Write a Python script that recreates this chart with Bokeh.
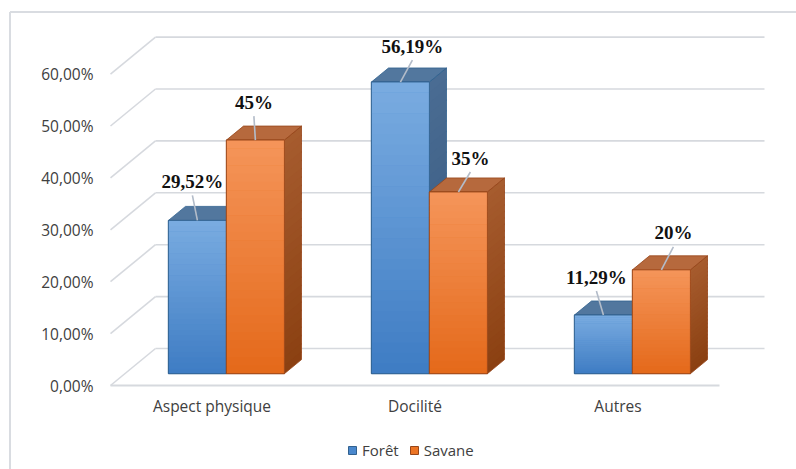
import numpy as np
from bokeh.plotting import figure
from bokeh.models import (Range1d, FixedTicker, CustomJSTickFormatter, Legend,
                          LegendItem, ColumnDataSource, LinearAxis)
from bokeh.core.properties import value
from bokeh.embed import file_html
from bokeh.resources import INLINE

# ---------------- data ----------------
categories = ["Aspect physique", "Docilité", "Autres"]
series_names = ["Forêt", "Savane"]
foret = [29.52, 56.19, 11.29]
savane = [45.0, 35.0, 20.0]
labels_foret = ["29,52%", "56,19%", "11,29%"]
labels_savane = ["45%", "35%", "20%"]
y_ticks = [0, 10, 20, 30, 40, 50, 60]

# ---------------- styles / layout ----------------
label_offsets_foret = [(-5, -39), (12, -36), (-7, -38)]    # px from bar top
label_offsets_savane = [(-1.5, -38), (12, -34), (12, -37)]

W, H = 796, 469
ORIGIN_X, ORIGIN_Y = 110, 385   # px of front-left floor corner
SX = 203.0      # px per category
SY = 5.19       # px per percent
X0 = -ORIGIN_X / SX
X1 = X0 + W / SX
Y0 = -(H - ORIGIN_Y) / SY
Y1 = Y0 + H / SY

DX = 45.0 / SX      # full floor depth
DY = 37.0 / SY
DF = 0.32           # bar front depth fraction
DD = 0.38           # bar depth fraction
BW = 58.0 / SX      # bar width

GRID = "#D6D9DE"
TXT = "#404040"
FONT = "Open Sans"
FSIZE = "15.5px"
styles = {
    0: dict(front_top="#7AACE1", front_bot="#3E7CC3", top="#52779E",
            side_top="#4A6C93", side_bot="#36587D", edge="#31618F", mid="#4A88CD"),
    1: dict(front_top="#F5955A", front_bot="#E4691A", top="#B6693D",
            side_top="#A65C2F", side_bot="#8B4011", edge="#97461A", mid="#EC7424"),
}


def hex2rgb(h):
    h = h.lstrip("#")
    return np.array([int(h[i:i + 2], 16) for i in (0, 2, 4)], dtype=float)


def mix(c1, c2, t):
    a, b = hex2rgb(c1), hex2rgb(c2)
    c = a + (b - a) * t
    return "#%02x%02x%02x" % tuple(int(round(v)) for v in c)


p = figure(width=W, height=H, output_backend="svg", toolbar_location=None,
           x_range=Range1d(X0, X1), y_range=Range1d(Y0, Y1),
           x_axis_location=None, y_axis_location=None,
           min_border=0, min_border_left=0, min_border_right=0,
           min_border_top=0, min_border_bottom=0)
p.outline_line_color = None
p.grid.visible = False
p.background_fill_color = "white"
p.border_fill_color = "white"

# ---------------- axes (fixed inside the frame) ----------------
yaxis = LinearAxis(fixed_location=0, ticker=FixedTicker(ticks=y_ticks),
                   formatter=CustomJSTickFormatter(
                       code="return tick.toFixed(2).replace('.', ',') + '%';"),
                   axis_line_color=None, major_tick_line_color=None,
                   minor_tick_line_color=None, major_tick_out=0, major_tick_in=0,
                   major_label_standoff=17, major_label_text_font=FONT,
                   major_label_text_font_size=FSIZE, major_label_text_color=TXT)
p.add_layout(yaxis, "left")

cat_pos = [i + 0.5 for i in range(len(categories))]
xaxis = LinearAxis(fixed_location=0, ticker=FixedTicker(ticks=cat_pos),
                   major_label_overrides={c: lab for c, lab in zip(cat_pos, categories)},
                   axis_line_color=None, major_tick_line_color=None,
                   minor_tick_line_color=None, major_tick_out=0, major_tick_in=0,
                   major_label_standoff=9, major_label_text_font=FONT,
                   major_label_text_font_size=FSIZE, major_label_text_color=TXT)
p.add_layout(xaxis, "below")

# ---------------- outer border ----------------
bx = X0 + 9.5 / SX
by = Y1 - 11.5 / SY
p.segment(x0=[bx, bx], y0=[by, by], x1=[bx, X1 + 1], y1=[Y0 - 1, by],
          line_color="#D9DCE1", line_width=2)

# ---------------- walls ----------------
n = len(categories)
p.segment(x0=[DX] * len(y_ticks), y0=[v + DY for v in y_ticks],
          x1=[n + DX] * len(y_ticks), y1=[v + DY for v in y_ticks],
          line_color=GRID, line_width=1.6)
p.segment(x0=[0] * len(y_ticks), y0=y_ticks,
          x1=[DX] * len(y_ticks), y1=[v + DY for v in y_ticks],
          line_color=GRID, line_width=1.6)
p.segment(x0=[0], y0=[0], x1=[n], y1=[0], line_color=GRID, line_width=1.8)

# ---------------- bars ----------------
NSTRIP = 28
OVL = 0.3
bdx, bdy = DD * DX, DD * DY
base_renderers = {}
label_rows = dict(x=[], y=[], text=[])
lead = dict(x0=[], y0=[], x1=[], y1=[])

for s, (vals, labs, offs) in enumerate([(foret, labels_foret, label_offsets_foret),
                                         (savane, labels_savane, label_offsets_savane)]):
    st = styles[s]
    side_xs, side_ys, side_col = [], [], []
    top_xs, top_ys = [], []
    fl, fr, ft, fb = [], [], [], []
    sl, sr, stp, sbt, scol = [], [], [], [], []
    edge_xs, edge_ys = [], []
    for i, v in enumerate(vals):
        c = i + 0.5 + DF * DX
        xl = c - BW if s == 0 else c
        xr = xl + BW
        yb = DF * DY
        yt = v + yb
        for k in range(NSTRIP):
            a = yt - (yt - yb) * k / NSTRIP
            b = max(yt - (yt - yb) * (k + 1) / NSTRIP - OVL, yb)
            side_xs.append([xr, xr, xr + bdx, xr + bdx])
            side_ys.append([b, a, a + bdy, b + bdy])
            side_col.append(mix(st["side_top"], st["side_bot"], (k + 0.5) / NSTRIP))
        top_xs.append([xl, xr, xr + bdx, xl + bdx])
        top_ys.append([yt, yt, yt + bdy, yt + bdy])
        edge_xs += [[xr, xr, xr + bdx, xr + bdx], [xl, xr, xr + bdx, xl + bdx]]
        edge_ys += [[yb, yt, yt + bdy, yb + bdy], [yt, yt, yt + bdy, yt + bdy]]
        fl.append(xl); fr.append(xr); ft.append(yt); fb.append(yb)
        for k in range(NSTRIP):
            a = yt - (yt - yb) * k / NSTRIP
            b = max(yt - (yt - yb) * (k + 1) / NSTRIP - 0.08, yb)
            sl.append(xl); sr.append(xr); stp.append(a); sbt.append(b)
            scol.append(mix(st["front_top"], st["front_bot"], (k + 0.5) / NSTRIP))
        cx = (xl + xr) / 2
        ox, oy = offs[i]
        lx = cx + ox / SX
        ly = yt - oy / SY
        label_rows["x"].append(lx)
        label_rows["y"].append(ly)
        label_rows["text"].append(labs[i])
        lead["x0"].append(lx)
        lead["y0"].append(ly - 14 / SY)
        lead["x1"].append(cx)
        lead["y1"].append(yt)

    p.patches(xs=side_xs, ys=side_ys, fill_color=side_col, line_color=None)
    p.patches(xs=top_xs, ys=top_ys, fill_color=st["top"], line_color=None)
    p.patches(xs=edge_xs, ys=edge_ys, fill_color=None, line_color=st["edge"],
              line_width=1, line_alpha=0.8)
    base = p.quad(left=fl, right=fr, top=ft, bottom=fb, fill_color=st["mid"],
                  line_color=st["edge"], line_width=1)
    p.quad(left=sl, right=sr, top=stp, bottom=sbt, fill_color=scol, line_color=None)
    p.quad(left=fl, right=fr, top=ft, bottom=fb, fill_color=None,
           line_color=st["edge"], line_width=1, line_alpha=0.8)
    base_renderers[s] = base

p.segment(x0="x0", y0="y0", x1="x1", y1="y1", source=ColumnDataSource(lead),
          line_color="#B3BCC9", line_width=1.6)
p.text(x="x", y="y", text="text", source=ColumnDataSource(label_rows),
       text_font=value("Liberation Serif"), text_font_style="bold",
       text_font_size="19px", text_color="#111111",
       text_align="center", text_baseline="middle")

# ---------------- legend ----------------
legend = Legend(items=[LegendItem(label=series_names[0], renderers=[base_renderers[0]]),
                       LegendItem(label=series_names[1], renderers=[base_renderers[1]])],
                orientation="horizontal", location=(347, 9.5),
                padding=0, margin=0, border_line_color=None,
                background_fill_alpha=0, glyph_width=10, glyph_height=10,
                label_standoff=5, spacing=10, label_height=20,
                label_text_font=FONT, label_text_font_size="15px",
                label_text_color=TXT)
p.add_layout(legend)

open("out.html", "w").write(file_html(p, INLINE))
